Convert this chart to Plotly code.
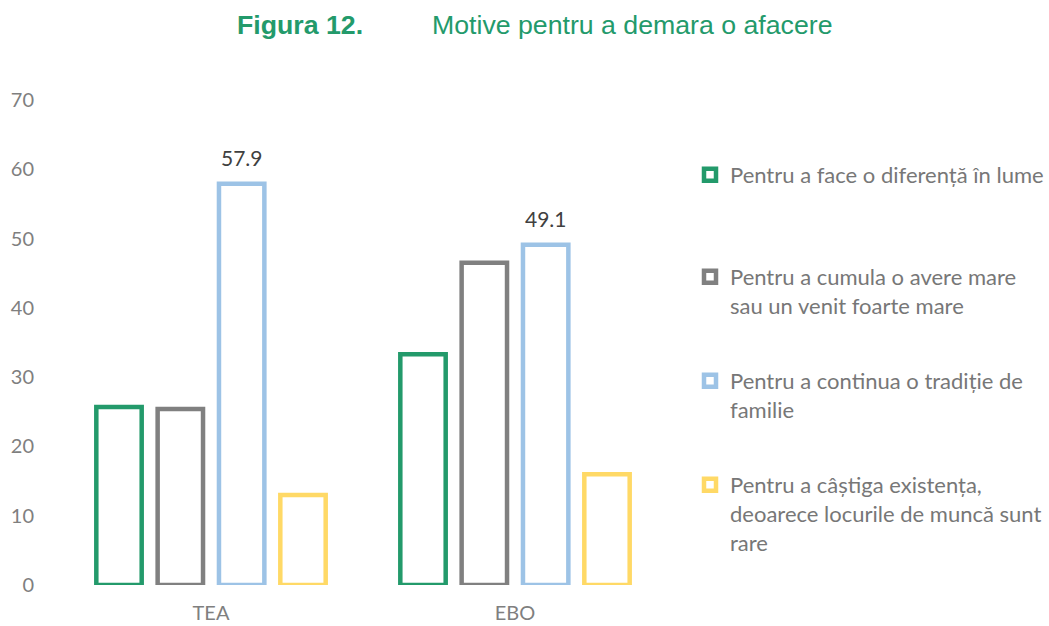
import plotly.graph_objects as go

# date
categories = ["TEA", "EBO"]
diferenta = [25.7, 33.3]
avere = [25.4, 46.5]
traditie = [57.9, 49.1]
existenta = [13.0, 16.0]

names = [
    "Pentru a face o diferență în lume",
    "Pentru a cumula o avere mare<br>sau un venit foarte mare",
    "Pentru a continua o tradiție de<br>familie",
    "Pentru a câștiga existența,<br>deoarece locurile de muncă sunt<br>rare",
]
colors = ["#239a6b", "#808080", "#9dc3e6", "#ffd966"]
values = [diferenta, avere, traditie, existenta]
legend_ids = ["legend", "legend2", "legend3", "legend4"]
legend_tops = [154, 256, 360, 464]  # px din partea de sus

FONT = "Lato"
W, H = 1049, 626
L, R, T, B = 59, 382, 100, 41
plot_w = W - L - R
plot_h = H - T - B

fig = go.Figure()
for i, (name, vals) in enumerate(zip(names, values)):
    fig.add_trace(go.Bar(
        x=categories,
        y=vals,
        name=name,
        legend=legend_ids[i],
        marker=dict(color="white", line=dict(color=colors[i], width=4.5)),
        hoverinfo="x+y+name",
    ))

# etichete doar pentru seria albastra (a treia din grup)
for cat, val in zip(categories, traditie):
    fig.add_annotation(
        x=cat, y=val, text=f"{val}", showarrow=False,
        xshift=30.5, yshift=26,
        font=dict(family=FONT, size=21, color="#404040"),
    )

layout_legends = {}
for lid, top in zip(legend_ids, legend_tops):
    layout_legends[lid] = dict(
        xref="container", yref="container",
        x=690 / W, y=1 - top / H,
        xanchor="left", yanchor="top",
        valign="top",
        bgcolor="rgba(0,0,0,0)",
        font=dict(family=FONT, size=22, color="#777777"),
    )

fig.update_layout(
    width=W,
    height=H,
    paper_bgcolor="white",
    plot_bgcolor="white",
    margin={'l': L, 'r': R, 't': T, 'b': B},
    barmode="group",
    bargap=0.193,
    bargroupgap=0.26,
    showlegend=True,
    **layout_legends,
    xaxis=dict(
        showline=False, showgrid=False, zeroline=False, automargin=False,
        tickfont=dict(family=FONT, size=20, color="#7f7f7f"),
        ticklabelstandoff=14,
    ),
    yaxis=dict(
        range=[0, 70], dtick=10, automargin=False,
        showline=False, showgrid=False, zeroline=False,
        tickfont=dict(family=FONT, size=20, color="#7f7f7f"),
        ticklabelstandoff=24,
    ),
)

# titlul figurii
title_y = (H - B - 25) / plot_h
fig.add_annotation(
    text="<b>Figura 12.</b>", xref="paper", yref="paper",
    x=(235 - L) / plot_w, y=title_y, xanchor="left", yanchor="middle",
    showarrow=False, font=dict(family="Liberation Sans", size=26.7, color="#239a6b"),
)
fig.add_annotation(
    text="Motive pentru a demara o afacere", xref="paper", yref="paper",
    x=(430 - L) / plot_w, y=title_y, xanchor="left", yanchor="middle",
    showarrow=False, font=dict(family="Liberation Sans", size=26.7, color="#239a6b"),
)

fig.write_html(
    "out.html",
    config={'displayModeBar': False},
    post_script="document.body.style.margin='0';",
)
